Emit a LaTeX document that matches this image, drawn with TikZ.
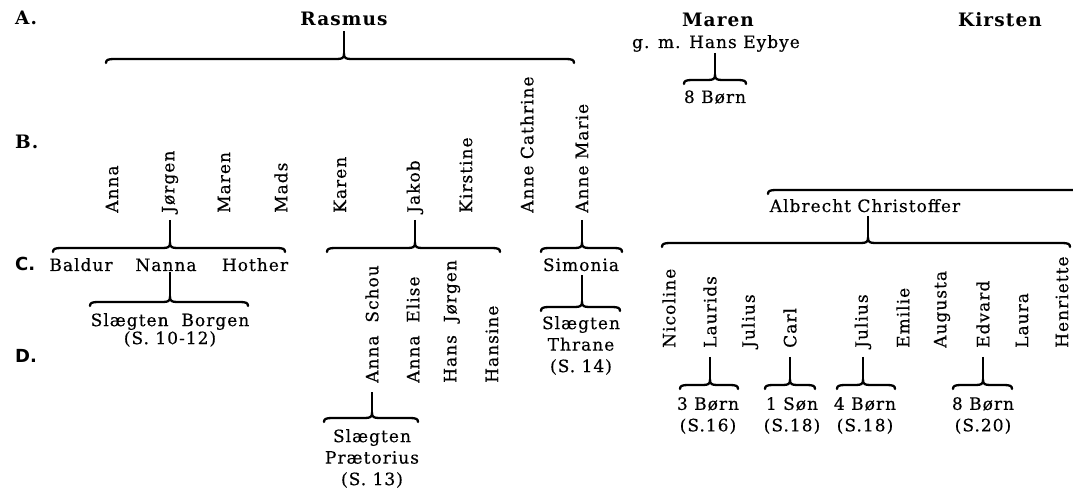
\documentclass[tikz,border=0pt]{standalone}
\usepackage{fontspec}
\setmainfont{DejaVu Serif}[LetterSpace=6]
\setsansfont{DejaVu Sans}
\newfontfamily\rg{DejaVu Serif}[LetterSpace=6,FakeBold=0.4]
\newcommand\nf{\fontsize{17bp}{18bp}\selectfont\rg}
\newcommand\nfw{\fontsize{17bp}{21.5bp}\selectfont\rg}
\newcommand\hf{\fontsize{18.5bp}{20bp}\selectfont\bfseries}
% brace: tip name, x1, xc, x2, y  (y grows downwards)
\newcommand\fbrace[5]{%
  \coordinate (#1) at (#3,#5-5);
  \draw[brc] (#2,#5+4) .. controls (#2,#5+1) and (#2+2,#5) .. (#2+8,#5)
    -- (#3-7,#5) .. controls (#3-2,#5) and (#3,#5-1) .. (#1)
    .. controls (#3,#5-1) and (#3+2,#5) .. (#3+7,#5)
    -- (#4-8,#5) .. controls (#4-2,#5) and (#4,#5+1) .. (#4,#5+4);}
\tikzset{
  nm/.style={font=\nf, inner sep=0pt, anchor=base},
  vn/.style={font=\nf, inner sep=0pt, rotate=90, anchor=west},
  hd/.style={font=\hf, inner sep=0pt, anchor=base},
  gls/.style={font=\hf, inner sep=0pt, anchor=base west},
  glf/.style={font=\fontsize{18bp}{20bp}\selectfont\sffamily\bfseries, inner sep=0pt, anchor=base west},
  ml/.style={font=\nf, inner sep=0pt, anchor=north, align=center},
  mlw/.style={font=\nfw, inner sep=0pt, anchor=north, align=center},
  link/.style={line width=2.6bp},
  brc/.style={line width=2.3bp, line cap=round},
}
\begin{document}
\begin{tikzpicture}[x=1bp,y=-1bp]
\useasboundingbox (0,0) rectangle (1073,490);
% generation labels
\node[gls] (gA) at (15,25) {A.};
\node[gls] (gB) at (15,149) {B.};
\node[glf] (gC) at (15,271) {C.};
\node[glf] (gD) at (15,363) {D.};
% generation A
\node[hd] (ras) at (344,26) {Rasmus};
\node[hd] (mar) at (718,27) {Maren};
\node[hd] (kir) at (1000,27) {Kirsten};
\node[nm] (eyb) at (716,48) {g. m. Hans Eybye};
\fbrace{tRas}{106}{344}{574}{59}
\draw[link] ([yshift=-5bp]ras.south) -- (tRas);
\fbrace{tEyb}{684}{715}{746}{80}
\draw[link] ([yshift=-1bp]eyb.south -| tEyb) -- (tEyb);
\node[nm] (b8) at (715,103) {8 Børn};
% generation B
\node[vn] (anna) at (112,213) {Anna};
\node[vn] (jor) at (170,213) {Jørgen};
\node[vn] (maren) at (224,213) {Maren};
\node[vn] (mads) at (281,213) {Mads};
\node[vn] (karen) at (340,213) {Karen};
\node[vn] (jak) at (415,213) {Jakob};
\node[vn] (kirst) at (466,213) {Kirstine};
\node[vn] (ac) at (527,213) {Anne Cathrine};
\node[vn] (am) at (582,213) {Anne Marie};
% Jørgen's family
\fbrace{tJor}{53}{170}{285}{248}
\draw[link] ([yshift=-7bp]jor.west) -- (tJor);
\node[nm] (bal) at (81,271) {Baldur};
\node[nm] (nan) at (166,271) {Nanna};
\node[nm] (hot) at (255,271) {Hother};
\fbrace{tNan}{90}{170}{248}{302}
\draw[link] ([yshift=-1bp]nan.south -| tNan) -- (tNan);
\node[ml] (borg) at (170,313) {Slægten\ \ Borgen\\(S. 10-12)};
% Jakob's family
\fbrace{tJak}{327}{415}{500}{248}
\draw[link] ([yshift=-7bp]jak.west) -- (tJak);
\node[vn] (as) at (372,383) {Anna\ \ Schou};
\node[vn] (ae) at (413,383) {Anna\ \ Elise};
\node[vn] (hj) at (452,383) {Hans\ \ Jørgen};
\node[vn] (han) at (492,383) {Hansine};
\fbrace{tAS}{324}{372}{418}{418}
\draw[link] ([yshift=-9bp]as.west) -- (tAS);
\node[mlw] (prae) at (372,429) {Slægten\\Prætorius\\(S. 13)};
% Anne Marie's family
\fbrace{tAM}{541}{582}{622}{248}
\draw[link] ([yshift=-7bp]am.west) -- (tAM);
\node[nm] (sim) at (581,271) {Simonia};
\fbrace{tSim}{541}{582}{620}{307}
\draw[link] ([yshift=-4bp]sim.south -| tSim) -- (tSim);
\node[mlw] (thr) at (581,316) {Slægten\\Thrane\\(S. 14)};
% Albrecht Christoffer
\draw[brc] (768,194) .. controls (768,191) and (770,190) .. (776,190) -- (1073,190);
\node[nm] (alb) at (865,212) {Albrecht Christoffer};
\fbrace{tAlb}{662}{868}{1070}{243}
\draw[link] ([yshift=-4bp]alb.south -| tAlb) -- (tAlb);
\node[vn] (nic) at (669,348) {Nicoline};
\node[vn] (lau) at (710,348) {Laurids};
\node[vn] (jul1) at (750,348) {Julius};
\node[vn] (carl) at (790,348) {Carl};
\node[vn] (jul2) at (863,348) {Julius};
\node[vn] (emi) at (903,348) {Emilie};
\node[vn] (aug) at (942,348) {Augusta};
\node[vn] (edv) at (983,348) {Edvard};
\node[vn] (lau2) at (1022,348) {Laura};
\node[vn] (hen) at (1062,348) {Henriette};
\fbrace{tLau}{680}{710}{738}{385}
\draw[link] ([yshift=-9bp]lau.west) -- (tLau);
\fbrace{tCar}{765}{790}{815}{385}
\draw[link] ([yshift=-9bp]carl.west) -- (tCar);
\fbrace{tJul}{837}{863}{895}{385}
\draw[link] ([yshift=-9bp]jul2.west) -- (tJul);
\fbrace{tEdv}{953}{983}{1012}{385}
\draw[link] ([yshift=-9bp]edv.west) -- (tEdv);
\node[mlw] (c3) at (708,397) {3 Børn\\(S.16)};
\node[mlw] (c1) at (792,397) {1 Søn\\(S.18)};
\node[mlw] (c4) at (865,397) {4 Børn\\(S.18)};
\node[mlw] (c8) at (983,397) {8 Børn\\(S.20)};
\end{tikzpicture}
\end{document}
